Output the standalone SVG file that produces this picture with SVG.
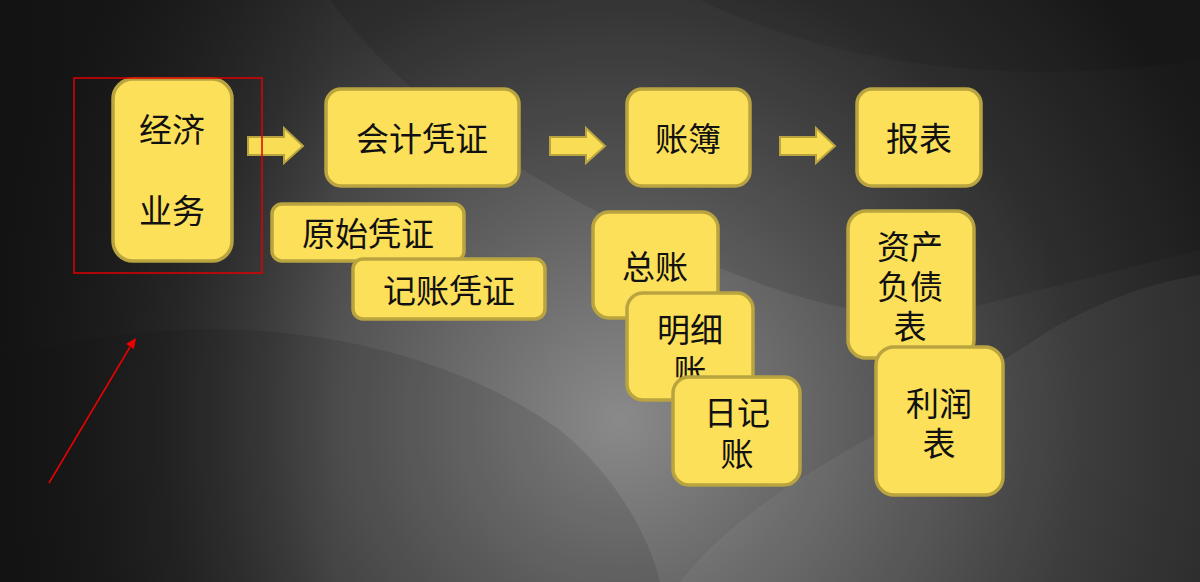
<svg xmlns="http://www.w3.org/2000/svg" width="1200" height="582" viewBox="0 0 1200 582">
<defs>
<radialGradient id="bg1" cx="620" cy="420" r="660" gradientUnits="userSpaceOnUse">
<stop offset="0" stop-color="#8a8a8a"/>
<stop offset="0.35" stop-color="#5e5e5e"/>
<stop offset="0.7" stop-color="#333"/>
<stop offset="1" stop-color="#1c1c1c"/>
</radialGradient>
<linearGradient id="lft" x1="0" y1="0" x2="1" y2="0">
<stop offset="0" stop-color="#111" stop-opacity="0.85"/>
<stop offset="0.28" stop-color="#111" stop-opacity="0"/>
</linearGradient>
<style>
.box{fill:#fce05a;stroke:#b9a440;stroke-width:3.5}
.arr{fill:#f9dd55;stroke:#b9a440;stroke-width:2}
.t{font-family:"Microsoft YaHei","Noto Sans CJK SC",sans-serif;font-size:33px;fill:#111;text-anchor:middle;dominant-baseline:central}
</style>
</defs>
<g id="background">
<rect width="1200" height="582" fill="url(#bg1)"/>
<path d="M330 0 C420 120 560 200 700 260 C820 310 900 330 1000 300 L1200 250 L1200 0 Z" fill="#000" opacity="0.1"/>
<path d="M0 360 C200 300 420 330 560 430 C620 480 650 540 660 582 L0 582 Z" fill="#000" opacity="0.1"/>
<path d="M680 582 C760 480 900 430 1050 330 C1120 290 1170 280 1200 275 L1200 582 Z" fill="#fff" opacity="0.05"/>
<path d="M700 0 C820 60 1000 90 1200 60 L1200 0 Z" fill="#000" opacity="0.08"/>
<rect width="1200" height="582" fill="url(#lft)"/>
</g>
<g id="connectors">
<path class="arr" d="M248 137 H284 V128 L303 146 L284 163 V155 H248 Z"/>
<path class="arr" d="M550 137 H586 V128 L605 146 L586 163 V155 H550 Z"/>
<path class="arr" d="M780 137 H816 V128 L835 146 L816 163 V155 H780 Z"/>
</g>
<g id="n-jingji">
<rect class="box" x="113" y="79" width="119" height="182" rx="20"/>
<text class="t" x="172" y="128">经济</text>
<text class="t" x="172" y="209">业务</text>
</g>
<g id="n-kuaiji">
<rect class="box" x="326" y="89" width="193" height="97" rx="15"/>
<text class="t" x="422" y="137">会计凭证</text>
</g>
<g id="n-yuanshi">
<rect class="box" x="272" y="204" width="192" height="57" rx="10"/>
<text class="t" x="368" y="232">原始凭证</text>
</g>
<g id="n-jizhang">
<rect class="box" x="353" y="259" width="192" height="60" rx="10"/>
<text class="t" x="449" y="289">记账凭证</text>
</g>
<g id="n-zhangbu">
<rect class="box" x="627" y="89" width="123" height="97" rx="15"/>
<text class="t" x="688" y="137">账簿</text>
</g>
<g id="n-baobiao">
<rect class="box" x="857" y="89" width="124" height="97" rx="15"/>
<text class="t" x="919" y="137">报表</text>
</g>
<g id="n-zongzhang">
<rect class="box" x="593" y="212" width="125" height="106" rx="16"/>
<text class="t" x="655" y="265">总账</text>
</g>
<g id="n-mingxi">
<rect class="box" x="627" y="293" width="126" height="107" rx="16"/>
<text class="t" x="690" y="328">明细</text>
<text class="t" x="690" y="369">账</text>
</g>
<g id="n-riji">
<rect class="box" x="673" y="377" width="127" height="108" rx="16"/>
<text class="t" x="737" y="411">日记</text>
<text class="t" x="737" y="452">账</text>
</g>
<g id="n-zichan">
<rect class="box" x="848" y="211" width="126" height="147" rx="18"/>
<text class="t" x="910" y="245">资产</text>
<text class="t" x="910" y="285">负债</text>
<text class="t" x="910" y="325">表</text>
</g>
<g id="n-lirun">
<rect class="box" x="876" y="347" width="127" height="148" rx="18"/>
<text class="t" x="939" y="402">利润</text>
<text class="t" x="939" y="442">表</text>
</g>
<g id="annotation">
<rect x="74" y="78" width="188" height="195" fill="none" stroke="#e00000" stroke-width="1.5"/>
<line x1="49" y1="483" x2="130" y2="347" stroke="#ee0000" stroke-width="1.5"/>
<path d="M136 338 L126 344 L134 349 Z" fill="#ee0000"/>
</g>
</svg>
